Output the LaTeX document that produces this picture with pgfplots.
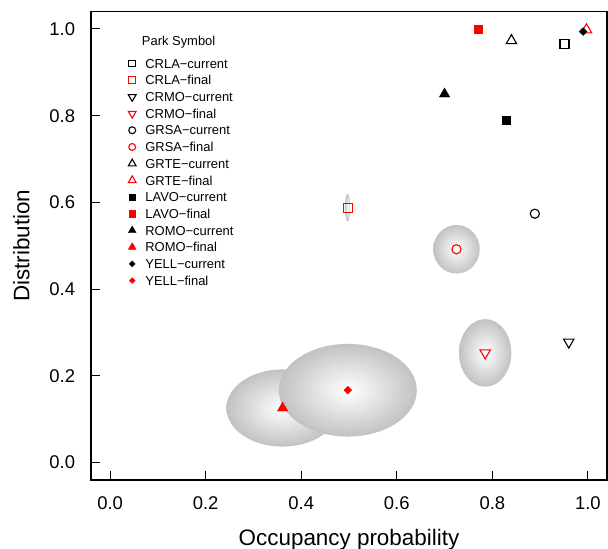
\documentclass[border=0pt]{standalone}
\usepackage{fontspec}
\setmainfont{Liberation Sans}
\usepackage{pgfplots}
\pgfplotsset{compat=1.18}
\pgfplotsset{
  pt/.style={only marks, line width=1.1bp,
    legend image code/.code={%
      \draw[##1, every mark/.append style={scale=0.75}] plot coordinates {(0bp,0bp)};
      \path (-6bp,0bp) (12.6bp,0bp);}},
}
\begin{document}
\begin{tikzpicture}
\useasboundingbox (-91bp,-69bp) rectangle (517bp,480bp);
\begin{axis}[
  at={(0,0)}, anchor=south west,
  scale only axis, width=516bp, height=468.4bp,
  xmin=-0.04, xmax=1.04, ymin=-0.04, ymax=1.04,
  xtick={0,0.2,0.4,0.6,0.8,1}, ytick={0,0.2,0.4,0.6,0.8,1},
  xticklabels={0.0,0.2,0.4,0.6,0.8,1.0},
  yticklabels={0.0,0.2,0.4,0.6,0.8,1.0},
  tick pos=left, tick align=inside, major tick length=9.3bp,
  axis line style={line width=1.1bp, black},
  tick style={line width=1.1bp, black},
  ticklabel style={font=\fontsize{18.5}{20}\selectfont, inner sep=0pt},
  xticklabel style={yshift=-16.7bp},
  yticklabel style={xshift=-15.7bp},
  xlabel={Occupancy probability}, ylabel={Distribution},
  xlabel style={at={(axis description cs:0.5,-0.1388)}, anchor=base, font=\fontsize{22.5}{24}\selectfont},
  ylabel style={at={(axis description cs:-0.1196,0.5)}, anchor=base, font=\fontsize{22.5}{24}\selectfont},
  legend cell align=left,
  legend style={at={(axis description cs:0.0672,0.9071)}, anchor=north west,
    draw=none, fill=none, inner sep=0pt, outer sep=0pt, row sep=0pt, column sep=0pt,
    font=\fontsize{13}{14}\selectfont,
    nodes={inner sep=0pt, text height=13bp, text depth=3.7bp}},
]
% uncertainty ellipses
\shade[inner color=white, outer color=black!24] (axis cs:0.361,0.126) ellipse [x radius=0.1176, y radius=0.089];
\shade[inner color=white, outer color=black!24] (axis cs:0.4975,0.167) ellipse [x radius=0.1444, y radius=0.1068];
\shade[inner color=white, outer color=black!24] (axis cs:0.785,0.253) ellipse [x radius=0.0547, y radius=0.078];
\shade[inner color=white, outer color=black!24] (axis cs:0.725,0.492) ellipse [x radius=0.0487, y radius=0.056];
\shade[inner color=white, outer color=black!24] (axis cs:0.497,0.588) ellipse [x radius=0.0056, y radius=0.032];

\addplot[pt, black, mark=square, mark size=4.5bp] coordinates {(0.951,0.965)};
\addlegendentry{CRLA−current}
\addplot[pt, red, mark=square, mark size=4.5bp] coordinates {(0.497,0.588)};
\addlegendentry{CRLA−final}
\addplot[pt, black, mark=triangle, mark size=6bp, mark options={rotate=180}] coordinates {(0.960,0.278)};
\addlegendentry{CRMO−current}
\addplot[pt, red, mark=triangle, mark size=6bp, mark options={rotate=180}] coordinates {(0.785,0.253)};
\addlegendentry{CRMO−final}
\addplot[pt, black, mark=o, mark size=4.6bp] coordinates {(0.889,0.574)};
\addlegendentry{GRSA−current}
\addplot[pt, red, mark=o, mark size=4.6bp] coordinates {(0.725,0.492)};
\addlegendentry{GRSA−final}
\addplot[pt, black, mark=triangle, mark size=6bp] coordinates {(0.840,0.973)};
\addlegendentry{GRTE−current}
\addplot[pt, red, mark=triangle, mark size=6bp] coordinates {(0.997,0.998)};
\addlegendentry{GRTE−final}
\addplot[pt, black, mark=square*, mark size=4.1bp, mark options={fill=black, line width=0.4bp}] coordinates {(0.829,0.790)};
\addlegendentry{LAVO−current}
\addplot[pt, red, mark=square*, mark size=4.1bp, mark options={fill=red, line width=0.4bp}] coordinates {(0.770,1.0)};
\addlegendentry{LAVO−final}
\addplot[pt, black, mark=triangle*, mark size=6bp, mark options={fill=black, line width=0.4bp}] coordinates {(0.700,0.850)};
\addlegendentry{ROMO−current}
\addplot[pt, red, mark=triangle*, mark size=6bp, mark options={fill=red, line width=0.4bp}] coordinates {(0.361,0.126)};
\addlegendentry{ROMO−final}
\addplot[pt, black, mark=square*, mark size=2.8bp, mark options={rotate=45, fill=black, line width=0.3bp}] coordinates {(0.990,0.994)};
\addlegendentry{YELL−current}
\addplot[pt, red, mark=square*, mark size=2.8bp, mark options={rotate=45, fill=red, line width=0.3bp}] coordinates {(0.4975,0.167)};
\addlegendentry{YELL−final}

\node[anchor=base west, inner sep=0pt, font=\fontsize{13}{14}\selectfont] at (axis description cs:0.0983,0.9278) {Park Symbol};
\end{axis}
\end{tikzpicture}
\end{document}
